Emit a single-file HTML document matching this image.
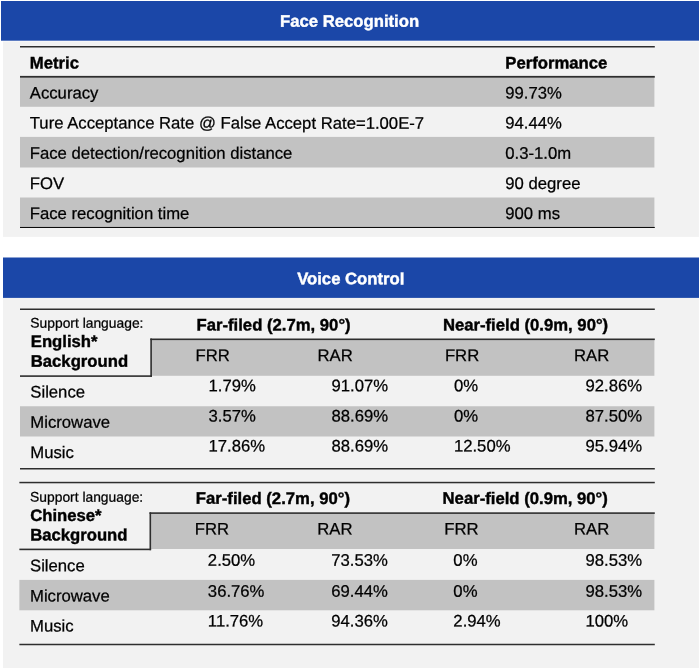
<!DOCTYPE html>
<html><head><meta charset="utf-8">
<title>Face Recognition / Voice Control</title>
<style>
html,body{margin:0;padding:0;}
body{width:700px;height:669px;background:#fff;position:relative;overflow:hidden;font-family:"Liberation Sans",Arial,Helvetica,sans-serif;color:#000;}
.abs{position:absolute;}
.t{position:absolute;white-space:nowrap;font-size:16.7px;line-height:20px;-webkit-text-stroke:0.25px currentColor;}
.b{font-weight:bold;-webkit-text-stroke-width:0.4px;}
</style></head><body>
<svg class="abs" style="left:0;top:0" width="700" height="669" viewBox="0 0 700 669">
<rect x="1" y="1" width="698" height="39.7" fill="#1b47a8"/>
<rect x="3" y="41.4" width="695.9" height="195.5" fill="#f2f2f2"/>
<rect x="20" y="77.5" width="634.4" height="29.3" fill="#c2c2c2"/>
<rect x="20" y="136.9" width="634.4" height="30.6" fill="#c2c2c2"/>
<rect x="20" y="197.5" width="634.4" height="29.5" fill="#c2c2c2"/>
<rect x="20" y="46" width="634.8" height="1.5" fill="#2e2e2e"/>
<rect x="20" y="75.9" width="634.8" height="1.8" fill="#2e2e2e"/>
<rect x="20" y="226.95" width="634.8" height="1.05" fill="#0c0c0c"/>
<rect x="3" y="257.5" width="696" height="40.4" fill="#1b47a8"/>
<rect x="3" y="298" width="695.9" height="370" fill="#f2f2f2"/>
<rect x="151" y="339.3" width="503.4" height="36.5" fill="#c2c2c2"/>
<rect x="20" y="406.25" width="634.4" height="30.25" fill="#c2c2c2"/>
<rect x="20" y="308.5" width="634.8" height="1.5" fill="#2e2e2e"/>
<rect x="150.3" y="338.5" width="504.5" height="1.6" fill="#2e2e2e"/>
<rect x="150.3" y="338.5" width="1.6" height="38.4" fill="#2e2e2e"/>
<rect x="20" y="375.3" width="131.9" height="1.6" fill="#2e2e2e"/>
<rect x="20" y="468" width="634.8" height="1.5" fill="#2e2e2e"/>
<rect x="150.35" y="513.1" width="504.05" height="35.9" fill="#c2c2c2"/>
<rect x="19.35" y="579.9" width="635.05" height="30.4" fill="#c2c2c2"/>
<rect x="19.35" y="481.8" width="635.45" height="1.5" fill="#2e2e2e"/>
<rect x="149.5" y="512.3" width="505.3" height="1.6" fill="#2e2e2e"/>
<rect x="149.5" y="512.3" width="1.6" height="37.9" fill="#2e2e2e"/>
<rect x="19.35" y="548.6" width="131.75" height="1.6" fill="#2e2e2e"/>
<rect x="19.35" y="643.75" width="635.45" height="1.5" fill="#2e2e2e"/>
</svg>
<section aria-label="Face Recognition">
<div class="t b" style="left:280px;top:11px;color:#fff;transform:translate(0.05px,0.75px) rotate(0.03deg);">Face Recognition</div>
<div class="t b" style="left:29px;top:53px;transform:translate(0.8px,0.45px) rotate(0.03deg);">Metric</div>
<div class="t b" style="left:505px;top:53px;transform:translate(0.3px,0.45px) rotate(0.03deg);">Performance</div>
<div class="t" style="left:29px;top:83px;transform:translate(0.8px,0.6px) rotate(0.03deg);">Accuracy</div>
<div class="t" style="left:505px;top:83px;transform:translate(0.3px,0.6px) rotate(0.03deg);">99.73%</div>
<div class="t" style="left:29px;top:113px;transform:translate(0.8px,0.6px) rotate(0.03deg);">Ture Acceptance Rate @ False Accept Rate=1.00E-7</div>
<div class="t" style="left:505px;top:113px;transform:translate(0.3px,0.6px) rotate(0.03deg);">94.44%</div>
<div class="t" style="left:29px;top:143px;transform:translate(0.8px,0.8px) rotate(0.03deg);">Face detection/recognition distance</div>
<div class="t" style="left:505px;top:143px;transform:translate(0.3px,0.8px) rotate(0.03deg);">0.3-1.0m</div>
<div class="t" style="left:29px;top:174px;transform:translate(0.8px,0px) rotate(0.03deg);">FOV</div>
<div class="t" style="left:505px;top:174px;transform:translate(0.3px,0px) rotate(0.03deg);">90 degree</div>
<div class="t" style="left:29px;top:204px;transform:translate(0.8px,0px) rotate(0.03deg);">Face recognition time</div>
<div class="t" style="left:505px;top:204px;transform:translate(0.3px,0px) rotate(0.03deg);">900 ms</div>
</section>
<section aria-label="Voice Control">
<div class="t b" style="left:297px;top:269px;color:#fff;transform:translate(0.15px,0.35px) rotate(0.03deg);">Voice Control</div>
<div class="t" style="left:30px;top:312px;font-size:13.85px;transform:translate(0.3px,0.65px) rotate(0.03deg);">Support language:</div>
<div class="t b" style="left:30px;top:332px;transform:translate(0.75px,0px) rotate(0.03deg);">English*</div>
<div class="t b" style="left:30px;top:351px;transform:translate(0.75px,0.75px) rotate(0.03deg);">Background</div>
<div class="t b" style="left:196px;top:315px;transform:translate(0.5px,0.5px) rotate(0.03deg);">Far-filed (2.7m, 90°)</div>
<div class="t b" style="left:442px;top:315px;transform:translate(0.9px,0.5px) rotate(0.03deg);">Near-field (0.9m, 90°)</div>
<div class="t" style="left:195px;top:346px;transform:translate(0.5px,0.05px) rotate(0.03deg);">FRR</div>
<div class="t" style="left:317px;top:346px;transform:translate(0.5px,0.05px) rotate(0.03deg);">RAR</div>
<div class="t" style="left:444px;top:346px;transform:translate(0.9px,0.05px) rotate(0.03deg);">FRR</div>
<div class="t" style="left:574px;top:346px;transform:translate(0px,0.05px) rotate(0.03deg);">RAR</div>
<div class="t" style="left:30px;top:382px;transform:translate(0.3px,0.6px) rotate(0.03deg);">Silence</div>
<div class="t" style="left:208px;top:376px;transform:translate(0.5px,0.3px) rotate(0.03deg);">1.79%</div>
<div class="t" style="left:331px;top:376px;transform:translate(0.5px,0.3px) rotate(0.03deg);">91.07%</div>
<div class="t" style="left:453px;top:376px;transform:translate(0.9px,0.3px) rotate(0.03deg);">0%</div>
<div class="t" style="left:585px;top:376px;transform:translate(0.5px,0.3px) rotate(0.03deg);">92.86%</div>
<div class="t" style="left:30px;top:412px;transform:translate(0.3px,0.75px) rotate(0.03deg);">Microwave</div>
<div class="t" style="left:208px;top:406px;transform:translate(0.5px,0.4px) rotate(0.03deg);">3.57%</div>
<div class="t" style="left:331px;top:406px;transform:translate(0.5px,0.4px) rotate(0.03deg);">88.69%</div>
<div class="t" style="left:453px;top:406px;transform:translate(0.9px,0.4px) rotate(0.03deg);">0%</div>
<div class="t" style="left:585px;top:406px;transform:translate(0.5px,0.4px) rotate(0.03deg);">87.50%</div>
<div class="t" style="left:30px;top:443px;transform:translate(0.3px,0px) rotate(0.03deg);">Music</div>
<div class="t" style="left:208px;top:436px;transform:translate(0.5px,0.6px) rotate(0.03deg);">17.86%</div>
<div class="t" style="left:331px;top:436px;transform:translate(0.5px,0.6px) rotate(0.03deg);">88.69%</div>
<div class="t" style="left:453px;top:436px;transform:translate(0.9px,0.6px) rotate(0.03deg);">12.50%</div>
<div class="t" style="left:585px;top:436px;transform:translate(0.5px,0.6px) rotate(0.03deg);">95.94%</div>
<div class="t" style="left:30px;top:486px;font-size:13.85px;transform:translate(0.05px,0.65px) rotate(0.03deg);">Support language:</div>
<div class="t b" style="left:30px;top:506px;transform:translate(0.15px,0px) rotate(0.03deg);">Chinese*</div>
<div class="t b" style="left:30px;top:525px;transform:translate(0.15px,0.5px) rotate(0.03deg);">Background</div>
<div class="t b" style="left:195px;top:488px;transform:translate(0.85px,0.9px) rotate(0.03deg);">Far-filed (2.7m, 90°)</div>
<div class="t b" style="left:442px;top:488px;transform:translate(0.57px,0.9px) rotate(0.03deg);">Near-field (0.9m, 90°)</div>
<div class="t" style="left:194px;top:519px;transform:translate(0.85px,0.45px) rotate(0.03deg);">FRR</div>
<div class="t" style="left:317px;top:519px;transform:translate(0.25px,0.45px) rotate(0.03deg);">RAR</div>
<div class="t" style="left:444px;top:519px;transform:translate(0.35px,0.45px) rotate(0.03deg);">FRR</div>
<div class="t" style="left:573px;top:519px;transform:translate(0.95px,0.45px) rotate(0.03deg);">RAR</div>
<div class="t" style="left:30px;top:556px;transform:translate(0px,0.3px) rotate(0.03deg);">Silence</div>
<div class="t" style="left:207px;top:550px;transform:translate(0.85px,0.8px) rotate(0.03deg);">2.50%</div>
<div class="t" style="left:331px;top:550px;transform:translate(0.25px,0.8px) rotate(0.03deg);">73.53%</div>
<div class="t" style="left:453px;top:550px;transform:translate(0.35px,0.8px) rotate(0.03deg);">0%</div>
<div class="t" style="left:585px;top:550px;transform:translate(0.45px,0.8px) rotate(0.03deg);">98.53%</div>
<div class="t" style="left:30px;top:586px;transform:translate(0px,0.5px) rotate(0.03deg);">Microwave</div>
<div class="t" style="left:207px;top:581px;transform:translate(0.85px,0.8px) rotate(0.03deg);">36.76%</div>
<div class="t" style="left:331px;top:581px;transform:translate(0.25px,0.8px) rotate(0.03deg);">69.44%</div>
<div class="t" style="left:453px;top:581px;transform:translate(0.35px,0.8px) rotate(0.03deg);">0%</div>
<div class="t" style="left:585px;top:581px;transform:translate(0.45px,0.8px) rotate(0.03deg);">98.53%</div>
<div class="t" style="left:30px;top:616px;transform:translate(0px,0.45px) rotate(0.03deg);">Music</div>
<div class="t" style="left:207px;top:611px;transform:translate(0.85px,0.6px) rotate(0.03deg);">11.76%</div>
<div class="t" style="left:331px;top:611px;transform:translate(0.25px,0.6px) rotate(0.03deg);">94.36%</div>
<div class="t" style="left:453px;top:611px;transform:translate(0.35px,0.6px) rotate(0.03deg);">2.94%</div>
<div class="t" style="left:585px;top:611px;transform:translate(0.45px,0.6px) rotate(0.03deg);">100%</div>
</section>
</body></html>
